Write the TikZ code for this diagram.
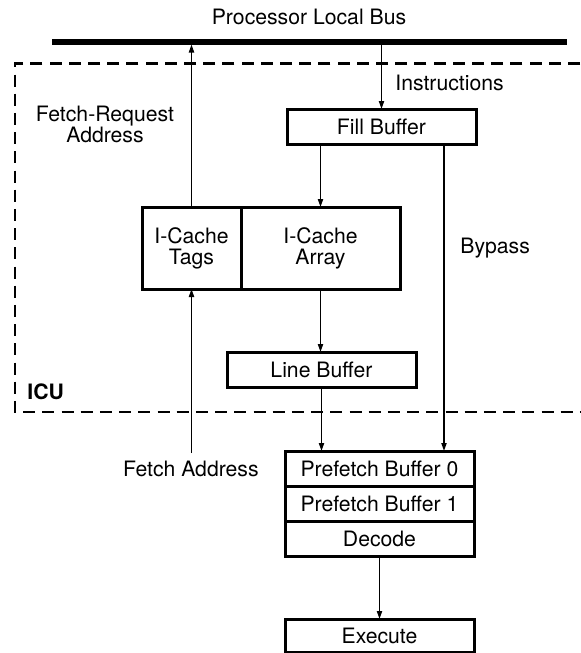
\documentclass[tikz,border=0pt]{standalone}
\usepackage{fontspec}
\setmainfont{TeX Gyre Heros}
\usetikzlibrary{arrows.meta, positioning}

\begin{document}
\begin{tikzpicture}[
    x=0.5pt, y=-0.5pt,
    font=\fontsize{10.6pt}{10.6pt}\selectfont,
    box/.style={rectangle, draw, line width=1.5pt, inner sep=0pt, outer sep=0pt, minimum width=94.5pt, minimum height=17.5pt, align=center},
    cachebox/.style={box, minimum height=41pt},
    arr/.style={-{Triangle[length=4pt, width=2.6pt]}, line width=0.7pt},
    lbl/.style={inner sep=0pt, align=center},
    busline/.style={line width=2.6pt},
    icu/.style={dashed, line width=1.4pt, dash pattern=on 6pt off 3.6pt},
]
\useasboundingbox (0,0) rectangle (580,653);

% bus and ICU outline
\coordinate (bus-w) at (52,42);
\coordinate (bus-e) at (567,42);
\coordinate (bus) at (0,44.5);
\draw[busline] (bus-w) -- (bus-e);
\node[lbl] (title) at (309,17) {Processor Local Bus};
\draw[icu] (580,63.5) -| (15,412) -- (580,412);
\node[lbl, anchor=west, font=\fontsize{10.6pt}{10.6pt}\selectfont\bfseries] (icu) at (27,392) {ICU};

% blocks
\node[box] (fill) at (381.5,126.5) {Fill Buffer};
\node[cachebox, minimum width=49.5pt] (tags) at (191.5,248) {I-Cache\\Tags};
\node[cachebox, minimum width=79.5pt, right=0pt of tags] (array) {I-Cache\\Array};
\node[box] (line) at (321.5,369.5) {Line Buffer};
\node[box] (pb0) at (379.5,468.5) {Prefetch Buffer 0};
\node[box, below=0pt of pb0] (pb1) {Prefetch Buffer 1};
\node[box, below=0pt of pb1] (decode) {Decode};
\node[box, minimum height=16.5pt] (exec) at (379.5,635.5) {Execute};

% labels
\node[lbl] (frq) at (105,124.5) {Fetch-Request\\Address};
\node[lbl, anchor=west] (instr) at (395,83) {Instructions};
\node[lbl, anchor=west] (bypass) at (460,248) {Bypass};
\node[lbl, anchor=east] (faddr) at (259,469) {Fetch Address};
\coordinate (ftail) at (191.5,453);
\coordinate (byp) at (444,0);

% connectors
\draw[arr] (tags) -- (tags |- bus);
\draw[arr] (fill |- bus) -- (fill);
\draw[arr] (fill.south -| array) -- (array);
\draw[arr] (fill.south -| byp) -- (pb0.north -| byp);
\draw[arr] (ftail) -- (tags);
\draw[arr] (array) -- (array |- line.north);
\draw[arr] (line) -- (line |- pb0.north);
\draw[arr] (decode) -- (exec);
\end{tikzpicture}
\end{document}
